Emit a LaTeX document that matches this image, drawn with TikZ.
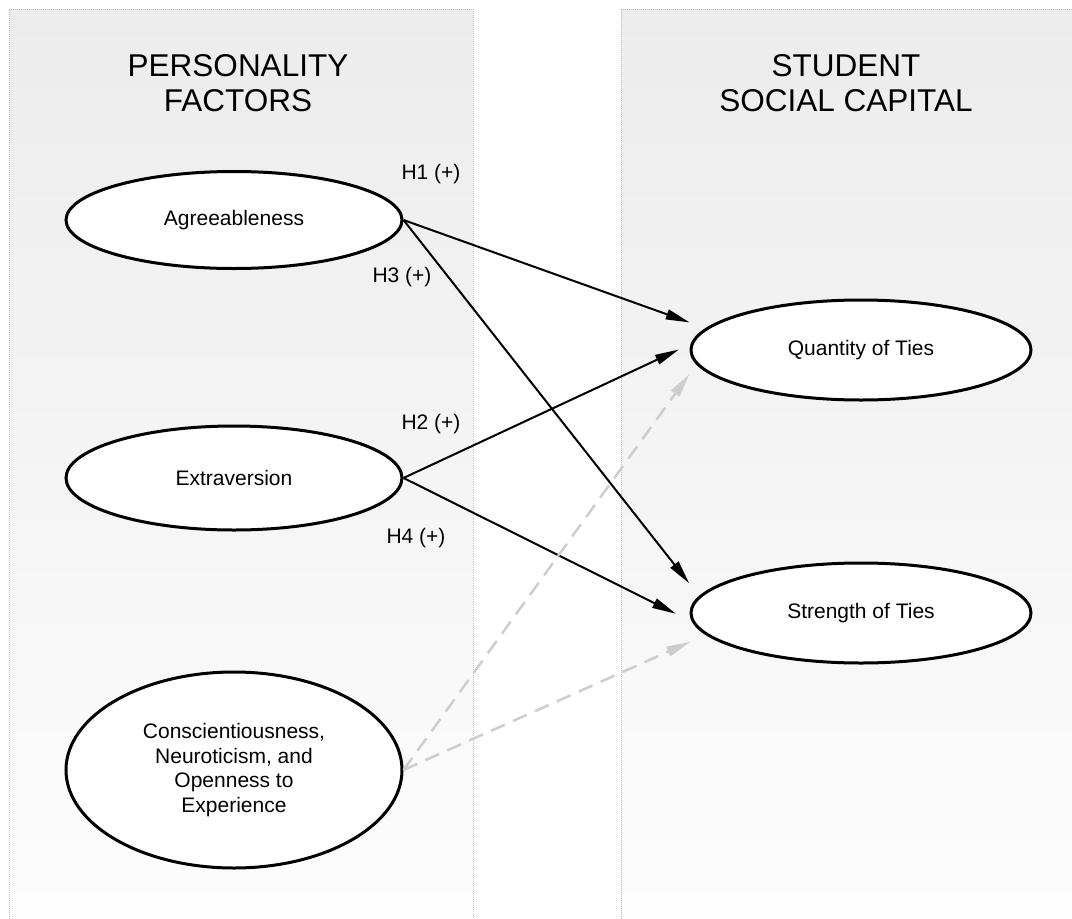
\documentclass[tikz,border=0pt]{standalone}
\usepackage{fontspec}
\setmainfont{Liberation Sans}
\usetikzlibrary{arrows.meta,shapes.geometric}

\definecolor{paneltop}{HTML}{ECECEC}
\definecolor{panelbot}{HTML}{FDFDFD}
\definecolor{paneledge}{HTML}{BEBEBE}
\definecolor{ctrlgray}{HTML}{CDCDCD}

\begin{document}
\begin{tikzpicture}[x=1pt, y=-1pt,
  factor/.style={ellipse, draw, line width=3pt, fill=white, minimum width=336pt,
    minimum height=100pt, inner sep=0pt, align=center, font=\fontsize{21}{24.5}\selectfont},
  paneltitle/.style={align=center, font=\fontsize{31.5}{35.5}\selectfont},
  hyp/.style={font=\fontsize{21}{24}\selectfont},
  hpath/.style={line width=2pt, -{Triangle[length=24pt, width=10pt]}},
  cpath/.style={draw=ctrlgray, line width=2.5pt, dash pattern=on 15pt off 9pt,
    -{Triangle[length=24pt, width=10pt]}}]

  \useasboundingbox (0,0) rectangle (1072,919);

  % Panels
  \shade[top color=paneltop, bottom color=panelbot] (9,9) rectangle (473,919);
  \shade[top color=paneltop, bottom color=panelbot] (621,9) rectangle (1072,919);
  \draw[paneledge, dash pattern=on 1pt off 1pt] (9,919) -- (9,9) -- (473,9) -- (473,919);
  \draw[paneledge, dash pattern=on 1pt off 1pt] (621,919) -- (621,9) -- (1072,9);

  % Nodes
  \node[paneltitle] (lefttitle) at (238,83) {PERSONALITY\\FACTORS};
  \node[paneltitle] (righttitle) at (846,83) {STUDENT\\SOCIAL CAPITAL};

  \node[factor, minimum height=97pt] (agree) at (234,220) {Agreeableness};
  \node[factor, minimum height=104pt] (extra) at (234,478) {Extraversion};
  \node[factor, minimum height=196pt] (others) at (234,770) {Conscientiousness,\\Neuroticism, and\\Openness to\\Experience};
  \node[factor, minimum width=340pt] (quantity) at (861,350) {Quantity of Ties};
  \node[factor, minimum width=340pt] (strength) at (861,613) {Strength of Ties};

  \node[hyp] (h1) at (431,174) {H1 (+)};
  \node[hyp] (h3) at (402,277) {H3 (+)};
  \node[hyp] (h2) at (431,424) {H2 (+)};
  \node[hyp] (h4) at (416,538) {H4 (+)};

  % Arrows
  \draw[hpath, shorten >=17pt] (agree.east) -- (quantity.172);
  \draw[hpath, shorten >=16pt] (agree.east) -- (strength.174);
  \draw[hpath, shorten >=13pt] (extra.east) -- (quantity.178);
  \draw[hpath, shorten >=18pt] (extra.east) -- (strength.183);
  \draw[cpath, shorten >=12pt] (others.east) -- (quantity.185);
  \draw[cpath, shorten >=17pt] (others.east) -- (strength.188);

\end{tikzpicture}
\end{document}
